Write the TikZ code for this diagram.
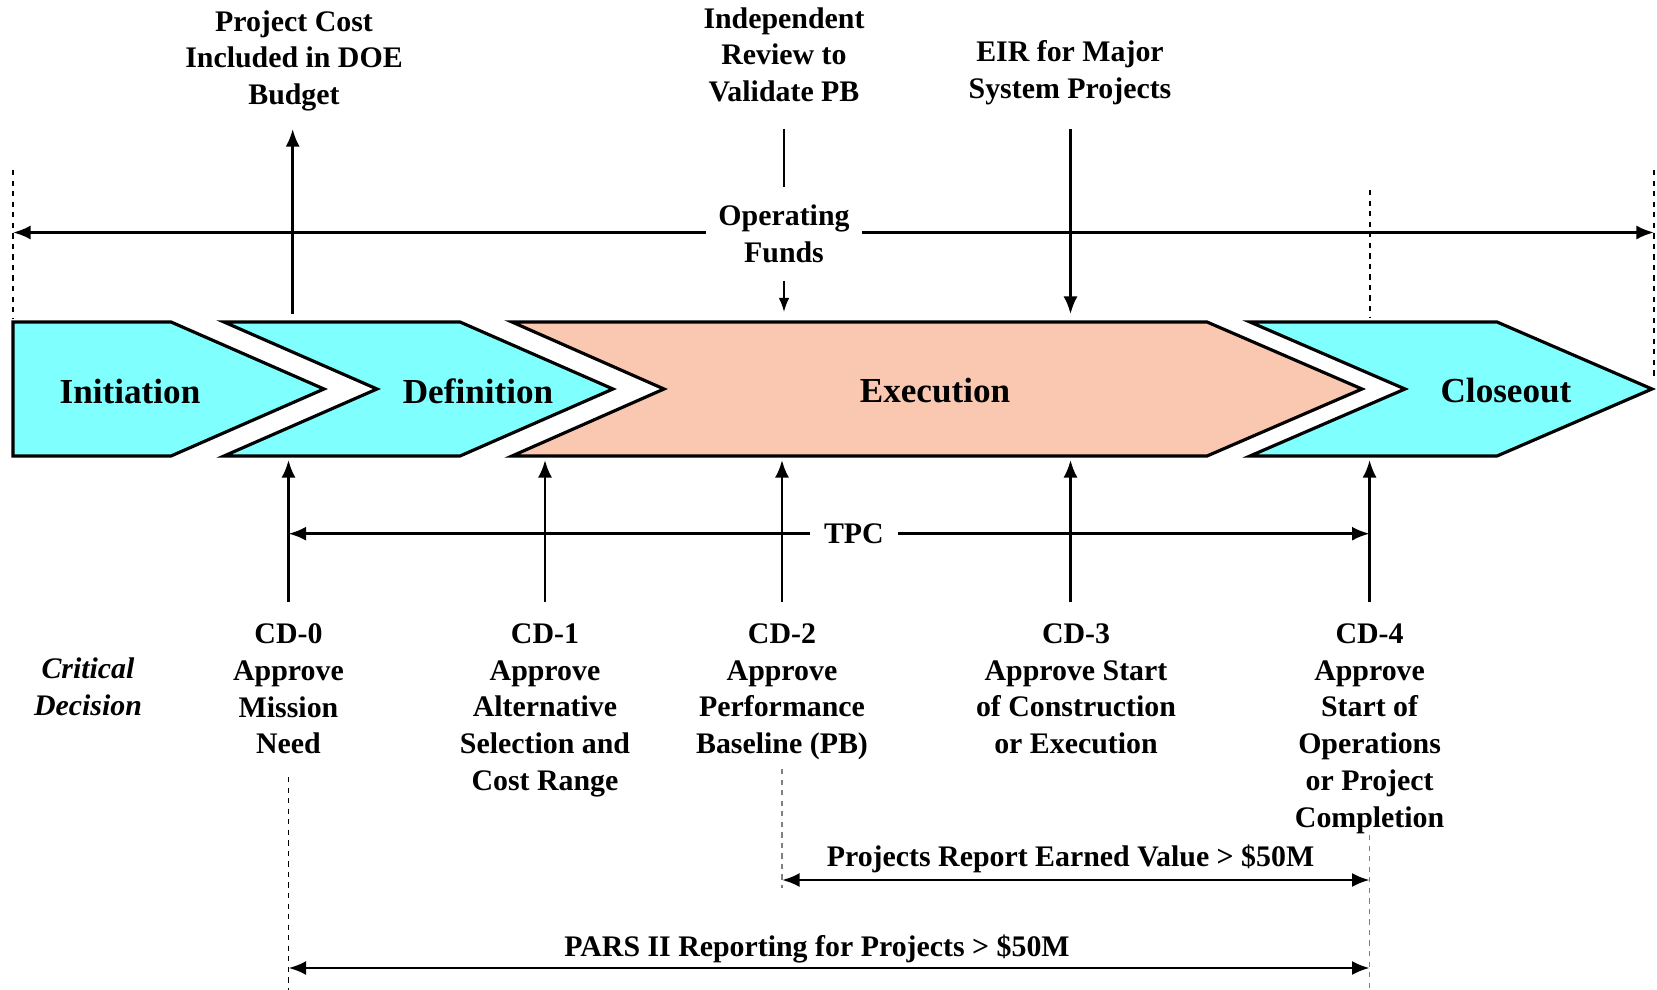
\documentclass[tikz,border=0pt]{standalone}
\usepackage{fontspec}
\setmainfont{Liberation Serif}
\usetikzlibrary{arrows.meta}
\definecolor{phasecyan}{RGB}{128,255,255}
\definecolor{phasepeach}{RGB}{250,200,176}
\tikzset{
  lbl/.style={font=\fontsize{17}{21}\selectfont\bfseries, align=center, inner sep=0pt},
  phaselbl/.style={font=\fontsize{20}{24}\selectfont\bfseries, inner sep=0pt},
  phase/.style={draw=black, line width=1.8pt, line join=miter},
  arr/.style={line width=1.5pt, -{Latex[length=10pt,width=8pt]}},
  dbl/.style={line width=1.5pt, {Latex[length=10pt,width=8pt]}-{Latex[length=10pt,width=8pt]}},
  guide/.style={dashed, line width=0.8pt},
}
\begin{document}
\begin{tikzpicture}[x=0.02cm,y=-0.02cm]
  \useasboundingbox (0,0) rectangle (1657,990);
  \path[phase, fill=phasecyan] (13,322) -- (171,322) -- (324,389) -- (171,456) -- (13,456) -- cycle;
  \path[phase, fill=phasecyan] (224,322) -- (460,322) -- (613,389) -- (460,456) -- (224,456) -- (377,389) -- cycle;
  \path[phase, fill=phasepeach] (512,322) -- (1207,322) -- (1362,389) -- (1207,456) -- (512,456) -- (664,389) -- cycle;
  \path[phase, fill=phasecyan] (1250,322) -- (1497,322) -- (1652,389) -- (1497,456) -- (1250,456) -- (1405,389) -- cycle;
  \node[phaselbl] (init) at (130,391) {Initiation};
  \node[phaselbl] (defn) at (478,391) {Definition};
  \node[phaselbl] (exec) at (935,391) {Execution};
  \node[phaselbl] (close) at (1506,391) {Closeout};

  \draw[guide] (13,170) -- (13,318);
  \draw[guide] (1654,170) -- (1654,378);
  \draw[guide] (1370,190) -- (1370,317);
  \draw[guide] (288.5,777) -- (288.5,990);
  \draw[guide, gray] (782,769) -- (782,888);
  \draw[guide, gray] (1369.6,835) -- (1369.6,990);

  \node[lbl, anchor=north] (cost) at (294,10) {Project Cost\\Included in DOE\\Budget};
  \node[lbl, anchor=north] (review) at (784,7) {Independent\\Review to\\Validate PB};
  \node[lbl, anchor=north] (eir) at (1070,40) {EIR for Major\\System Projects};
  \node[lbl, inner xsep=0.25cm, inner ysep=0.35cm] (funds) at (784,234) {Operating\\Funds};

  \coordinate (costtail) at (292.7,314);
  \coordinate (costhead) at (292.7,129);
  \coordinate (revend) at (784,129);
  \coordinate (fundsout) at (784,312);
  \coordinate (eirtail) at (1070.5,129);
  \coordinate (eirhead) at (1070.5,314);
  \coordinate (fundsl) at (13,232.5);
  \coordinate (fundsr) at (1654,232.5);
  \draw[arr] (costtail) -- (costhead);
  \draw[line width=1pt] (revend) -- (funds.north);
  \draw[line width=1pt, -{Latex[length=8pt,width=6pt]}] (funds.south) -- (fundsout);
  \draw[arr] (eirtail) -- (eirhead);
  \draw[arr] (funds.west |- fundsl) -- (fundsl);
  \draw[arr] (funds.east |- fundsr) -- (fundsr);

  \foreach \n/\x in {0/288.5,1/545,2/782,3/1070.5,4/1369.6} {
    \coordinate (cd\n bot) at (\x,602);
    \coordinate (cd\n top) at (\x,460);
    \draw[arr] (cd\n bot) -- (cd\n top);
  }
  \coordinate (tpcl) at (288.5,533.7);
  \coordinate (tpcr) at (1369.6,533.7);
  \draw[dbl] (tpcl) -- node[lbl, pos=0.523, fill=white, inner xsep=0.28cm, inner ysep=0.1cm] (tpc) {TPC} (tpcr);

  \node[lbl, font=\fontsize{17}{21}\selectfont\bfseries\itshape] (crit) at (88,687) {Critical\\Decision};
  \node[lbl, anchor=north] (cd0) at (288.5,623) {CD-0\\Approve\\Mission\\Need};
  \node[lbl, anchor=north] (cd1) at (545,623) {CD-1\\Approve\\Alternative\\Selection and\\Cost Range};
  \node[lbl, anchor=north] (cd2) at (782,623) {CD-2\\Approve\\Performance\\Baseline (PB)};
  \node[lbl, anchor=north] (cd3) at (1076,623) {CD-3\\Approve Start\\of Construction\\or Execution};
  \node[lbl, anchor=north] (cd4) at (1369.6,623) {CD-4\\Approve\\Start of\\Operations\\or Project\\Completion};

  \coordinate (evl) at (782,880);
  \coordinate (evr) at (1369.6,880);
  \coordinate (parsl) at (288.5,968);
  \coordinate (parsr) at (1369.6,968);
  \node[lbl] (ev) at (1070.5,859) {Projects Report Earned Value > \$50M};
  \node[lbl] (pars) at (817,949) {PARS II Reporting for Projects > \$50M};
  \draw[dbl] (evl) -- (evr);
  \draw[dbl] (parsl) -- (parsr);
\end{tikzpicture}
\end{document}
